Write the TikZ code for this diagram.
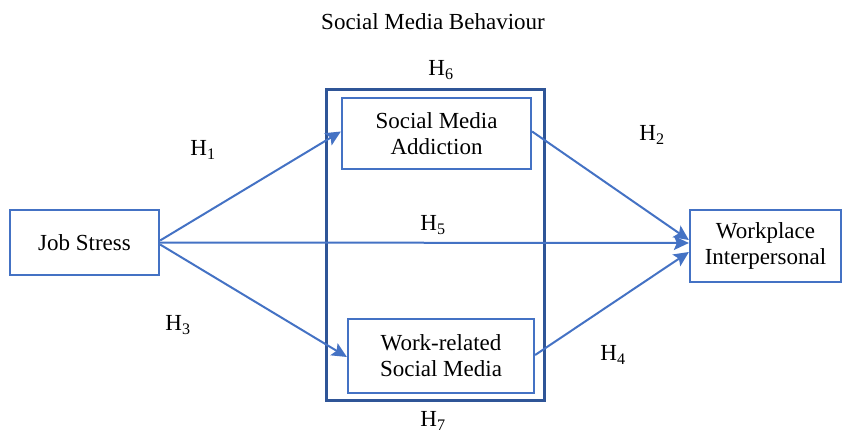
\documentclass[tikz,border=0pt]{standalone}
\usepackage{fontspec}
\setmainfont{Liberation Serif}
\usetikzlibrary{arrows.meta}
\definecolor{boxblue}{HTML}{4472C4}
\definecolor{outerblue}{HTML}{2F5597}
\begin{document}
\begin{tikzpicture}[x=1pt,y=-1pt,
  txt/.style={font=\fontsize{23}{26}\selectfont, inner sep=0pt},
  var/.style={draw=boxblue, line width=2.2pt, align=center, font=\fontsize{23}{26}\selectfont, inner sep=0pt},
  link/.style={draw=boxblue, line width=2pt, -{Stealth[length=15pt,width=14pt,inset=3pt]}}
]
\useasboundingbox (0,0) rectangle (849,433);
\node[txt] (title) at (433,22) {Social Media Behaviour};
\node[draw=outerblue, line width=2.2pt, minimum width=218pt, minimum height=311pt, inner sep=0pt] (outer) at (435.5,245) {};
\node[var, minimum width=189pt, minimum height=71pt] (sma) at (436.5,133.5) {Social Media\\Addiction};
\node[var, minimum width=186pt, minimum height=74pt] (wrsm) at (441,356) {Work-related\\Social Media};
\node[var, minimum width=149pt, minimum height=65pt] (js) at (84.5,242.5) {Job Stress};
\node[var, minimum width=151pt, minimum height=72pt] (wp) at (765.5,246) {Workplace\\Interpersonal};
\node[txt] (h1) at (203,150) {H\textsubscript{1}};
\node[txt] (h2) at (652,135) {H\textsubscript{2}};
\node[txt] (h3) at (178,325) {H\textsubscript{3}};
\node[txt] (h4) at (613,355) {H\textsubscript{4}};
\node[txt] (h5) at (433,225) {H\textsubscript{5}};
\node[txt] (h6) at (441,70) {H\textsubscript{6}};
\node[txt] (h7) at (433,421) {H\textsubscript{7}};
\draw[link] ([yshift=2pt]js.east) -- ([yshift=2pt]sma.west);
\draw[link] (js.east) -- ([yshift=3pt]wp.west);
\draw[link] ([yshift=-2pt]js.east) -- ([yshift=-1pt]wrsm.west);
\draw[link] ([yshift=2pt]sma.east) -- ([yshift=6pt]wp.west);
\draw[link] ([yshift=1pt]wrsm.east) -- ([yshift=-6pt]wp.west);
\end{tikzpicture}
\end{document}
